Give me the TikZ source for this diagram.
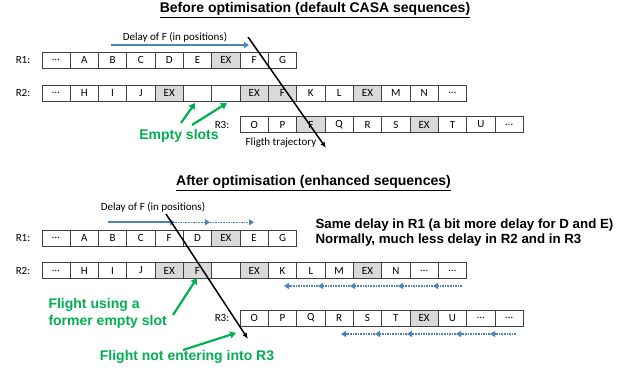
\documentclass[tikz,border=0pt]{standalone}
\usepackage{fontspec}
\setmainfont{Carlito}
\newfontfamily\arialfont{Liberation Sans}
\usetikzlibrary{arrows.meta}
\definecolor{exgray}{RGB}{217,217,217}
\definecolor{slotgreen}{RGB}{0,176,80}
\definecolor{delayblue}{RGB}{79,129,189}

\begin{document}
\begin{tikzpicture}[x=1pt,y=-1pt,
    cell/.style={draw=black!75, minimum width=28.33pt, minimum height=16pt, inner sep=0pt,
                 font=\fontsize{11}{12}\selectfont},
    rowlabel/.style={font=\fontsize{11}{12}\selectfont},
    smalltext/.style={font=\fontsize{11}{12}\selectfont},
    heading/.style={font=\arialfont\bfseries\fontsize{14}{16}\selectfont},
    greentext/.style={text=slotgreen, align=left, font=\arialfont\bfseries\fontsize{14}{17}\selectfont},
    greenarrow/.style={draw=slotgreen, line width=2.2pt, -{Triangle[length=6pt,width=7pt]}},
    traj/.style={draw=black, line width=1.5pt, -{Latex[length=6pt,width=5pt]}},
    delayarrow/.style={draw=delayblue, line width=1.8pt, -{Triangle[length=5pt,width=6pt]}},
    backarrow/.style={draw=delayblue, line width=1.6pt, densely dotted, -{Triangle[length=5pt,width=6pt]}}]
    \useasboundingbox (0,0) rectangle (628,374);

    % before optimisation
    \node[heading] (titleb) at (315,10) {\underline{Before optimisation (default CASA sequences)}};

    \node[rowlabel] (lb1) at (23,60) {R1:};
    \node[rowlabel] (lb2) at (23,93) {R2:};
    \node[rowlabel] (lb3) at (222,124.5) {R3:};

    \foreach \t/\f [count=\i] in {\ldots/white,A/white,B/white,C/white,D/white,E/white,EX/exgray,F/white,G/white}
        \node[cell, fill=\f] (ba\i) at ({41.7+28.33*(\i-0.5)},60) {\t};
    \foreach \t/\f [count=\i] in {\ldots/white,H/white,I/white,J/white,EX/exgray,{}/white,{}/white,EX/exgray,F/exgray,K/white,L/white,EX/exgray,M/white,N/white,\ldots/white}
        \node[cell, fill=\f] (bb\i) at ({41.7+28.33*(\i-0.5)},93) {\t};
    \foreach \t/\f [count=\i] in {O/white,P/white,F/exgray,Q/white,R/white,S/white,EX/exgray,T/white,U/white,\ldots/white}
        \node[cell, fill=\f] (bc\i) at ({240+28.33*(\i-0.5)},124.5) {\t};

    \node[smalltext] (delayb) at (175,37) {Delay of F (in positions)};
    \coordinate (db0) at (111,45);
    \coordinate (db1) at (249,45);
    \draw[delayarrow] (db0) -- (db1);

    \coordinate (tb0) at (248,37);
    \coordinate (tb1) at (326,148);
    \draw[traj] (tb0) -- (tb1);
    \node[smalltext] (trajb) at (281,143) {Fligth trajectory};

    \node[greentext] (emptyb) at (179,136) {Empty slots};
    \coordinate (eb1) at (195,103);
    \coordinate (eb2) at (227,103);
    \draw[greenarrow] (181,123) -- (eb1);
    \draw[greenarrow] (192,125) -- (eb2);

    % after optimisation
    \node[heading] (titlea) at (313.5,183) {\underline{After optimisation (enhanced sequences)}};

    \node[rowlabel] (la1) at (23,238) {R1:};
    \node[rowlabel] (la2) at (23,270.5) {R2:};
    \node[rowlabel] (la3) at (222,318) {R3:};

    \foreach \t/\f [count=\i] in {\ldots/white,A/white,B/white,C/white,F/white,D/white,EX/exgray,E/white,G/white}
        \node[cell, fill=\f] (aa\i) at ({41.7+28.33*(\i-0.5)},238) {\t};
    \foreach \t/\f [count=\i] in {\ldots/white,H/white,I/white,J/white,EX/exgray,F/exgray,{}/white,EX/exgray,K/white,L/white,M/white,EX/exgray,N/white,\ldots/white,\ldots/white}
        \node[cell, fill=\f] (ab\i) at ({41.7+28.33*(\i-0.5)},270.5) {\t};
    \foreach \t/\f [count=\i] in {O/white,P/white,Q/white,R/white,S/white,T/white,EX/exgray,U/white,\ldots/white,\ldots/white}
        \node[cell, fill=\f] (ac\i) at ({240+28.33*(\i-0.5)},318) {\t};

    \node[smalltext] (delaya) at (153,207) {Delay of F (in positions)};
    \coordinate (da0) at (108,222.3);
    \coordinate (da1) at (175,222.3);
    \coordinate (da2) at (210,222.3);
    \coordinate (da3) at (254,222.3);
    \draw[delayarrow] (da0) -- (da1);
    \draw[backarrow] (da1) -- (da2);
    \draw[backarrow] (da2) -- (da3);

    \node[anchor=west, align=left, font=\arialfont\bfseries\fontsize{13.3}{15}\selectfont] (notea) at (312,232.5)
        {Same delay in R1 (a bit more delay for D and E)\\Normally, much less delay in R2 and in R3};

    % shifts back in R2 and R3
    \foreach \a/\b [count=\i] in {462/433,433/398,398/350,350/318,318/284}
        \draw[backarrow] (\a,286) -- (\b,286);
    \foreach \a/\b [count=\i] in {516/490,490/456,456/407,407/375,375/341}
        \draw[backarrow] (\a,334) -- (\b,334);

    \coordinate (ta0) at (166,214);
    \coordinate (ta1) at (248,339);
    \draw[traj] (ta0) -- (ta1);

    \node[greentext, anchor=west] (usinga) at (45,313.5) {Flight using a\\former empty slot};
    \coordinate (ua1) at (197,278);
    \draw[greenarrow] (173,315) -- (ua1);

    \node[greentext] (entera) at (187,357) {Flight not entering into R3};
    \coordinate (ea1) at (236,333);
    \draw[greenarrow] (183,350) -- (ea1);
\end{tikzpicture}
\end{document}
